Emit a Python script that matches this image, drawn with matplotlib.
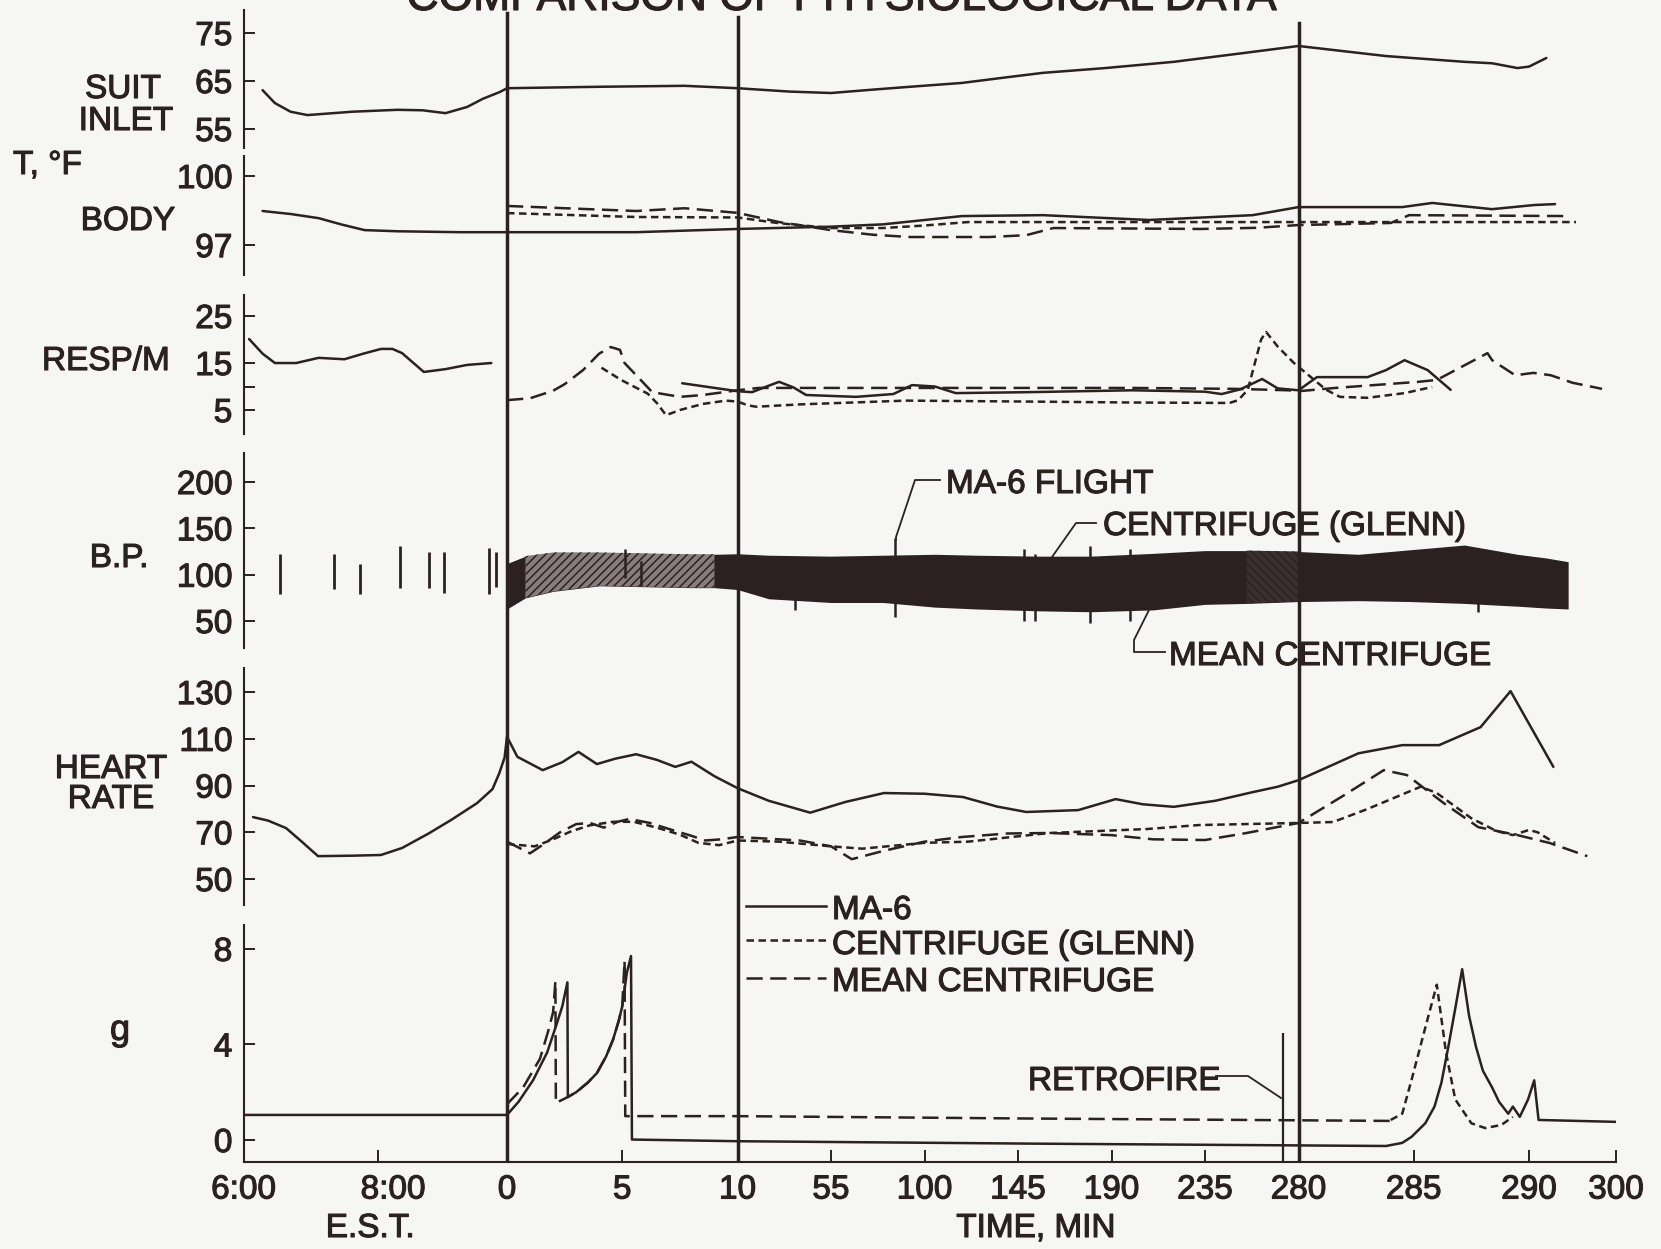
# Comparison of physiological data: MA-6 flight vs. centrifuge runs.
# Output: out.png (1661 x 1249)
import numpy as np
import matplotlib
matplotlib.use("Agg")
import matplotlib.pyplot as plt
import matplotlib.patheffects as pe
from matplotlib.lines import Line2D
from matplotlib.text import Text
from matplotlib.transforms import Affine2D, ScaledTranslation

W, H = 1661, 1249
BG = "#f6f6f4"
INK = "#2b2121"
plt.rcParams.update({"font.family": ["Liberation Sans", "DejaVu Sans"],
                     "font.size": 24, "text.color": INK,
                     "hatch.color": INK, "hatch.linewidth": 1.1})

# ---------------------------------------------------------------- time axis
# minutes from launch; pre-launch part is E.S.T. clock (6:00 = -227, 8:00 = -107)
KNOT_T = np.array([-227, -107, 0, 10, 280, 290, 300], float)
KNOT_P = np.array([243.5, 378, 507, 737.5, 1298.5, 1529, 1616], float)

x_tick_t = [-227, -107, 0, 5, 10, 55, 100, 145, 190, 235, 280, 285, 290, 300]
x_tick_lab = ["6:00", "8:00", "0", "5", "10", "55", "100", "145", "190",
              "235", "280", "285", "290", "300"]
phase_t = [0, 10, 280]
retro_t, retro_top = 272.5, 4.48

# ---------------------------------------------------------------- data
suit_t = [-210, -199, -185, -170, -130, -91, -70, -51, -33, -20, -6, 0, 4, 7.7, 10,
          35, 55, 75, 93, 118, 140, 157, 187, 220, 253, 280,
          283.8, 287.2, 288.4, 289.5, 290, 292]
suit_v = [63.1, 60.4, 58.6, 57.9, 58.6, 59.0, 58.9, 58.3, 59.6, 61.3, 62.7, 63.5, 63.8, 64.0, 63.5,
          62.8, 62.5, 63.2, 63.8, 64.6, 65.8, 66.7, 67.7, 69.0, 70.8, 72.3,
          70.2, 69.0, 68.7, 67.7, 68.0, 69.8]

body_ma6_t = [-210, -185, -160, -140, -119, -91, -40, 0, 5.6, 10, 55, 80, 118, 157, 208,
              258, 280, 284.5, 285.8, 288.4, 290.6, 293]
body_ma6_v = [98.48, 98.35, 98.17, 97.9, 97.65, 97.6, 97.56, 97.56, 97.56, 97.7, 97.8, 97.9,
              98.26, 98.3, 98.09, 98.3, 98.65, 98.65, 98.83, 98.56, 98.74, 98.78]
body_glenn_t = [0, 5.6, 10, 30, 55, 80, 100, 121, 185, 280, 284.4, 295.4]
body_glenn_v = [98.39, 98.22, 98.2, 97.95, 97.74, 97.74, 97.85, 98.0, 98.0, 98.0, 98.0, 98.0]
body_mean_t = [0, 5.6, 7.7, 10, 30, 55, 75, 93, 131, 149, 162, 200, 233, 260, 280, 284,
               284.8, 294.5]
body_mean_v = [98.7, 98.48, 98.6, 98.4, 98.0, 97.65, 97.45, 97.35, 97.35, 97.43, 97.74,
               97.72, 97.7, 97.75, 97.87, 97.96, 98.3, 98.26]

resp_pre_t = [-222, -210, -199, -180, -160, -137, -120, -104.5, -95, -87, -69, -51, -33, -13]
resp_pre_v = [20.1, 17.0, 15.0, 15.0, 16.1, 15.8, 17.0, 18.0, 18.0, 17.1, 13.1, 13.7, 14.6, 15.0]
resp_ma6_t = [7.6, 10, 17, 24, 30, 37, 43, 67, 85, 94, 105, 115, 150, 200, 235, 243, 252,
              262.5, 270, 280, 280.8, 283, 283.8, 284.6, 285.6, 286.6]
resp_ma6_v = [10.7, 9.0, 8.8, 10.0, 11.0, 9.8, 8.2, 7.8, 8.4, 10.3, 10.0, 8.6, 8.8, 9.2, 8.9,
              8.4, 9.4, 11.6, 9.6, 9.2, 12.0, 12.0, 13.5, 15.6, 13.5, 9.3]
resp_glenn_t = [4.1, 4.95, 5.5, 6.1, 6.5, 6.9, 7.5, 8.5, 9.5, 10, 15, 19, 40, 91, 150, 200,
                246.8, 251, 255.6, 259, 262, 264.4, 270, 277.8, 281.2, 281.8, 283, 284.6, 285.8]
resp_glenn_v = [14.0, 11.4, 10.0, 8.5, 6.5, 3.9, 5.0, 6.3, 7.0, 6.8, 6.0, 5.7, 6.2, 7.0, 6.8,
                6.6, 6.5, 7.1, 9.3, 15.0, 20.0, 21.6, 18.5, 15.0, 9.3, 7.8, 7.6, 8.6, 9.9]
resp_mean_t = [0, 1, 2, 2.5, 3.3, 4.0, 4.5, 4.9, 5.1, 5.8, 6.3, 7.5, 8.5, 10, 20, 100, 200,
               250, 275, 280, 281.6, 285.2, 286.0, 288.2, 288.4, 289.4, 290.5, 292.5, 295, 298.4]
resp_mean_v = [7.1, 7.5, 9.1, 10.5, 13.5, 17.0, 18.4, 17.8, 15.0, 11.4, 8.8, 7.8, 8.2, 9.2,
               9.7, 9.7, 9.7, 9.5, 9.2, 9.0, 9.7, 11.0, 11.4, 17.1, 15.6, 12.4, 12.9, 12.4,
               10.8, 9.5]

bp_pre_t = [-194, -146.7, -123, -88.8, -64.4, -52, -14.8, -9]
bp_pre_sys = [122.6, 122.6, 111.8, 131, 124.7, 124.7, 129, 124.7]
bp_pre_dia = [79.6, 85, 79.6, 86, 86, 80.6, 79.6, 87]
bp_t = [0, 0.8, 2, 4, 6, 8, 9, 10, 25, 55, 80, 105, 125, 155, 180, 210, 235, 255, 280,
        282.6, 284.9, 287.2, 289.5, 292, 294.5]
bp_sys = [112, 120, 124, 124, 123, 122, 122, 122.6, 121, 120, 121, 122, 121, 120, 120, 123,
          126, 126, 125, 122, 127, 132, 122, 118, 114]
bp_dia = [63, 75, 82, 88, 87, 86, 86, 84, 74, 70, 70, 65, 63, 61, 60, 62, 68, 69, 71,
          72, 71, 69, 66, 64, 63]
bp_spike_t = [5.1, 5.8, 37.8, 85.6, 147.8, 153, 179.5, 198.7, 287.8]
bp_spike_hi = [128, 115, 78, 140, 128, 122, 131, 128, 72]
bp_spike_lo = [96, 88, 62, 54, 50.5, 50.5, 48, 50.5, 60]

hr_ma6_t = [-218.5, -205, -189, -175, -160.5, -130, -104.5, -87, -65, -46.6, -24.8, -12,
            -6.4, -2, 0, 0.45, 1.55, 2.4, 3.1, 3.9, 4.7, 5.6, 6.5, 7.3, 8.0, 9.0, 10,
            25, 45, 62, 80.5, 100, 118.5, 135, 149, 174, 192, 205, 220, 240, 258, 270, 280,
            282.6, 284.5, 286.1, 287.9, 289.2, 292.8]
hr_ma6_v = [76.5, 75.0, 71.8, 66.0, 59.8, 60.0, 60.3, 63.3, 69.5, 75.2, 82.5, 88.5,
            95.3, 102.0, 110.9, 102.3, 96.6, 100.0, 104.4, 99.2, 101.5, 103.4, 101.0, 98.0,
            100.2, 94.0, 88.9, 83.5, 78.4, 83.0, 86.8, 86.5, 85.1, 81.0, 78.7, 79.5, 84.2,
            82.0, 80.9, 83.5, 87.2, 89.5, 92.3, 103.8, 107.3, 107.3, 115.0, 130.4, 98.0]
hr_glenn_t = [0, 1.2, 2.0, 2.8, 3.6, 4.6, 5.5, 6.5, 7.5, 8.3, 9.2, 10, 30, 55, 70, 100,
              121, 160, 207, 232, 280, 281.5, 283, 285.3, 286.0, 287.5, 288.6, 289.3, 290,
              291, 293]
hr_glenn_v = [65, 64, 67, 70.5, 73, 74.5, 74.5, 72, 69, 65.5, 64.5, 66.5, 66, 64, 63, 65.5,
              66, 69.7, 71.4, 73.1, 74, 74.4, 80, 89.5, 86.8, 76, 70.5, 68.8, 71, 70, 65.4]
hr_mean_t = [0, 0.4, 1.0, 1.6, 2.3, 3.0, 3.6, 4.2, 4.8, 5.3, 6.2, 7.0, 8.0, 8.6, 9.3, 10,
             20, 40, 55, 65, 80, 100, 118, 140, 160, 190, 210, 235, 255, 280,
             282.0, 283.7, 284.7, 286.3, 287.8, 289.5, 292.4, 296.7]
hr_mean_v = [66, 64, 61, 65, 70, 73.5, 74, 72, 74.5, 75.7, 74, 71.5, 68.5, 66.5, 67, 68,
             67.5, 66.5, 64, 58.5, 62, 66, 68, 69.5, 69.7, 68.8, 67, 66.7, 69.7, 74,
             86, 96.6, 94.5, 82.5, 72.2, 68.8, 65.4, 59.8]

g_ma6_t = [-227, 0, 0.5, 1.13, 1.74, 2.17, 2.4, 2.62, 2.64, 3.0, 3.5, 3.9, 4.3, 4.6, 4.85,
           5.0, 5.1, 5.2, 5.38, 5.42, 10, 150, 283.8, 284.5, 284.9, 285.5, 285.9, 286.2,
           286.5, 286.8, 287.1, 287.4, 287.7, 288.0, 288.4, 288.7, 289.1, 289.3, 289.6,
           289.96, 290.6, 291.1, 300]
g_ma6_v = [1.05, 1.05, 1.6, 2.5, 3.66, 4.9, 5.6, 6.6, 1.8, 2.0, 2.4, 2.8, 3.5, 4.2, 5.0,
           5.6, 6.3, 7.0, 7.7, 0.02, -0.05, -0.15, -0.25, -0.12, 0.13, 0.7, 1.4, 2.4,
           3.9, 5.5, 7.15, 5.2, 3.9, 2.9, 2.2, 1.6, 1.1, 1.4, 0.97,
           1.7, 2.5, 0.84, 0.76]
g_mean_t = [0, 0.7, 1.43, 1.8, 2.0, 2.1, 2.12, 2.64, 3.0, 3.5, 3.9, 4.3, 4.6, 4.85, 5.0,
            5.1, 5.13, 10, 150, 284]
g_mean_v = [1.5, 2.2, 3.4, 4.6, 5.35, 6.65, 1.55, 1.8, 2.0, 2.4, 2.8, 3.5, 4.2, 5.0, 5.6,
            7.5, 1.0, 1.0, 0.9, 0.8]
g_glenn_t = [284, 284.5, 284.9, 285.5, 286, 286.4, 286.8, 287.5, 288.1, 288.8, 289.3]
g_glenn_v = [0.84, 1.1, 2.5, 4.7, 6.5, 3.66, 1.7, 0.7, 0.5, 0.63, 0.97]

# ---------------------------------------------------------------- styles
LW = 1.8
SOLID = "-"
SHORT = (0, (3.0, 1.8))
LONG = (0, (6.5, 3.0))

fig = plt.figure(figsize=(W / 100, H / 100), dpi=100)
fig.patch.set_facecolor(BG)
PX = Affine2D().scale(1 / W, -1 / H).translate(0, 1) + fig.transFigure
LEFT, RIGHT, AXIS_Y = 243.5, 1616, 1162


def t2p(t):
    return np.interp(t, KNOT_T, KNOT_P)


def p2t(p):
    return np.interp(p, KNOT_P, KNOT_T)


def panel(top, bottom, lo, hi, ticks, labels):
    ax = fig.add_axes([LEFT / W, 1 - bottom / H, (RIGHT - LEFT) / W, (bottom - top) / H])
    ax.set_xscale("function", functions=(t2p, p2t))
    ax.set_xlim(KNOT_T[0], KNOT_T[-1])
    ax.set_ylim(lo, hi)
    ax.patch.set_visible(False)
    for side in ("top", "right", "bottom"):
        ax.spines[side].set_visible(False)
    ax.spines["left"].set(linewidth=1.5, color=INK)
    ax.set_xticks([])
    ax.set_yticks(ticks, labels)
    ax.tick_params(axis="y", direction="in", length=8, width=1.4, pad=8,
                   labelsize=24, colors=INK)
    return ax


def trace(ax, t, v, style):
    ax.plot(t, v, color=INK, lw=LW, linestyle=style,
            solid_capstyle="round", solid_joinstyle="round")


def label(x, y, s, ha="center", size=24):
    fig.text(x, y, s, transform=PX, ha=ha, va="baseline", fontsize=size, color=INK)


def leader(xs, ys):
    fig.add_artist(Line2D(xs, ys, transform=PX, color=INK, lw=1.3))


# suit inlet temperature
ax = panel(10, 148, 51.04, 79.8, [75, 65, 55], ["75", "65", "55"])
trace(ax, suit_t, suit_v, SOLID)

# body temperature
ax = panel(156, 275, 95.70, 100.87, [100, 97], ["100", "97"])
trace(ax, body_ma6_t, body_ma6_v, SOLID)
trace(ax, body_glenn_t, body_glenn_v, SHORT)
trace(ax, body_mean_t, body_mean_v, LONG)

# respiration
ax = panel(295, 434, -0.1, 29.47, [25, 15, 5], ["25", "15", "5"])
ax.set_yticks([10], minor=True)
ax.tick_params(axis="y", which="minor", direction="in", length=8, width=1.4, colors=INK)
trace(ax, resp_pre_t, resp_pre_v, SOLID)
trace(ax, resp_ma6_t, resp_ma6_v, SOLID)
trace(ax, resp_glenn_t, resp_glenn_v, SHORT)
trace(ax, resp_mean_t, resp_mean_v, LONG)

# blood pressure
ax = panel(453, 648, 20.9, 231.3, [200, 150, 100, 50], ["200", "150", "100", "50"])
ax.vlines(bp_pre_t, bp_pre_dia, bp_pre_sys, color=INK, lw=2.0)
bp_t_arr = np.array(bp_t)
ax.fill_between(bp_t, bp_dia, bp_sys, color=INK, lw=0)
ax.fill_between(bp_t, bp_dia, bp_sys, where=(bp_t_arr >= 0.8) & (bp_t_arr <= 9),
                facecolor="#877d7d", edgecolor=INK, hatch="////", lw=0)
ax.fill_between(bp_t, bp_dia, bp_sys, where=(bp_t_arr >= 255) & (bp_t_arr <= 280),
                facecolor="#3a3030", edgecolor=INK, hatch="\\\\\\\\", lw=0)
ax.vlines(bp_spike_t, bp_spike_lo, bp_spike_hi, color=INK, lw=1.8)

# heart rate
ax = panel(668, 905, 38.9, 140.3, [130, 110, 90, 70, 50], ["130", "110", "90", "70", "50"])
trace(ax, hr_ma6_t, hr_ma6_v, SOLID)
trace(ax, hr_glenn_t, hr_glenn_v, SHORT)
trace(ax, hr_mean_t, hr_mean_v, LONG)

# acceleration
ax = panel(925, AXIS_Y, -0.92, 9.0, [8, 4, 0], ["8", "4", "0"])
ax.spines["bottom"].set_visible(True)
ax.spines["bottom"].set(linewidth=1.5, color=INK)
ax.set_xticks(x_tick_t, x_tick_lab)
ax.tick_params(axis="x", direction="in", length=9, width=1.4, pad=9,
               labelsize=24, colors=INK)
for lab in ax.get_xticklabels():
    if lab.get_text() == "8:00":
        lab.set_transform(lab.get_transform() + ScaledTranslation(0.15, 0, fig.dpi_scale_trans))
trace(ax, g_ma6_t, g_ma6_v, SOLID)
trace(ax, g_mean_t, g_mean_v, LONG)
trace(ax, g_glenn_t, g_glenn_v, SHORT)
ax.vlines([retro_t], -0.92, retro_top, color=INK, lw=1.6)

# phase lines (launch, orbit, re-entry) across every panel
axv = fig.add_axes([LEFT / W, 1 - AXIS_Y / H, (RIGHT - LEFT) / W, AXIS_Y / H])
axv.set_xscale("function", functions=(t2p, p2t))
axv.set_xlim(KNOT_T[0], KNOT_T[-1])
axv.axis("off")
for t, top in zip(phase_t, [13, 17, 23]):
    axv.axvline(t, ymin=0, ymax=(AXIS_Y - top) / AXIS_Y, color=INK, lw=2.5)

# ---------------------------------------------------------------- texts
label(842, 10, "COMPARISON OF PHYSIOLOGICAL DATA", size=32)
label(123, 98, "SUIT")
label(126, 130, "INLET")
label(13, 174, "T, °F", ha="left")
label(128, 230, "BODY")
label(106, 370, "RESP/M")
label(119, 567, "B.P.")
label(111, 778, "HEART")
label(111, 808, "RATE")
label(120, 1040, "g", size=26)
label(370, 1237, "E.S.T.")
label(1036, 1237, "TIME, MIN")

label(946, 493, "MA-6 FLIGHT", ha="left")
leader([940, 915, 896, 896], [480, 480, 537, 540])
label(1103, 535, "CENTRIFUGE (GLENN)", ha="left")
leader([1096, 1076, 1052, 1052], [523, 523, 557, 560])
label(1169, 665, "MEAN CENTRIFUGE", ha="left")
leader([1165, 1134, 1134, 1150], [652, 652, 640, 608])
label(1028, 1090, "RETROFIRE", ha="left")
leader([1216, 1248, 1281], [1076, 1076, 1098])

# legend
for y, base, style, text in [(906, 919, SOLID, "MA-6"),
                             (940, 954, SHORT, "CENTRIFUGE (GLENN)"),
                             (978, 991, LONG, "MEAN CENTRIFUGE")]:
    fig.add_artist(Line2D([746, 826], [y, y], transform=PX, color=INK, lw=LW,
                          linestyle=style))
    label(832, base, text, ha="left")

# heavier lettering, like the inked original
for txt in fig.findobj(Text):
    txt.set_path_effects([pe.withStroke(linewidth=0.8, foreground=INK)])

fig.savefig("out.png", dpi=100, facecolor=BG)
